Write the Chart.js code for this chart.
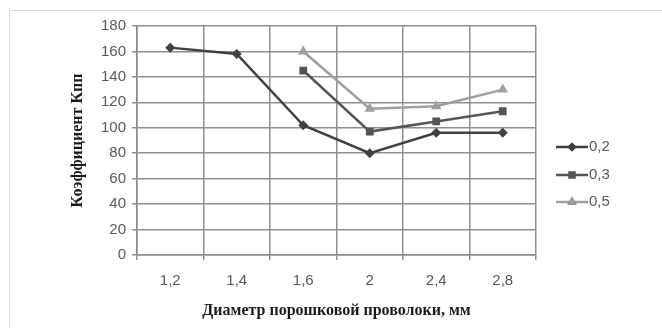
<!DOCTYPE html>
<html>
<head>
<meta charset="utf-8">
<script src="https://cdn.jsdelivr.net/npm/chart.js@4/dist/chart.umd.min.js"></script>
<style>
  html, body { margin: 0; padding: 0; background: #fff; }
  #wrap { position: relative; width: 662px; height: 328px; }
</style>
</head>
<body>
<div id="wrap"><canvas id="c" width="662" height="328"></canvas></div>
<script>
const categories = ['1,2', '1,4', '1,6', '2', '2,4', '2,8'];
const seriesLabels = ['0,2', '0,3', '0,5'];
const values02 = [163, 158, 102, 80, 96, 96];
const values03 = [null, null, 145, 97, 105, 113];
const values05 = [null, null, 160, 115, 117, 130];
const yTicks = [0, 20, 40, 60, 80, 100, 120, 140, 160, 180];
const yTitle = 'Коэффициент Кпп';
const xTitle = 'Диаметр порошковой проволоки, мм';

const colors = ['#404040', '#555555', '#9e9e9e'];
const markers = ['rectRot', 'rect', 'triangle'];
const radii = [5, 5.5, 6];
const seriesData = [values02, values03, values05];

const datasets = seriesLabels.map((lab, i) => ({
  label: lab,
  data: seriesData[i],
  borderColor: colors[i],
  backgroundColor: colors[i],
  borderWidth: 2.5,
  pointStyle: markers[i],
  pointRadius: radii[i],
  pointBorderWidth: 0,
  pointBackgroundColor: colors[i],
  tension: 0,
  spanGaps: false
}));

const framePlugin = {
  id: 'frame',
  beforeDraw(chart) {
    const ctx = chart.ctx;
    ctx.save();
    ctx.strokeStyle = '#d9d9d9';
    ctx.lineWidth = 1;
    ctx.beginPath();
    ctx.moveTo(9.5, 328);
    ctx.lineTo(9.5, 10.5);
    ctx.lineTo(662, 10.5);
    ctx.stroke();
    ctx.restore();
  }
};

const legendPlugin = {
  id: 'customLegend',
  afterDraw(chart) {
    const ctx = chart.ctx;
    const x0 = 556, lineLen = 32;
    const ys = [147, 175, 202];
    ctx.save();
    chart.data.datasets.forEach((ds, i) => {
      const y = ys[i];
      ctx.strokeStyle = ds.borderColor;
      ctx.lineWidth = 2.5;
      ctx.beginPath();
      ctx.moveTo(x0, y);
      ctx.lineTo(x0 + lineLen, y);
      ctx.stroke();
      Chart.helpers.drawPoint(ctx, {
        pointStyle: ds.pointStyle,
        radius: ds.pointRadius - 0.5,
        rotation: 0,
        borderWidth: 0
      }, x0 + lineLen / 2, y);
      ctx.fillStyle = ds.backgroundColor;
      ctx.fill();
      ctx.fillStyle = '#595959';
      ctx.font = '15px "Liberation Sans", Arial, sans-serif';
      ctx.textBaseline = 'middle';
      ctx.textAlign = 'left';
      ctx.fillText(ds.label, x0 + lineLen + 1, y);
    });
    ctx.restore();
  }
};

new Chart(document.getElementById('c'), {
  type: 'line',
  data: { labels: categories, datasets },
  options: {
    responsive: false,
    animation: false,
    devicePixelRatio: 1,
    layout: { padding: { left: 0, right: 126, top: 26, bottom: 0 } },
    plugins: { legend: { display: false }, tooltip: { enabled: false } },
    scales: {
      x: {
        type: 'category',
        offset: true,
        afterFit(s) { s.height = 73; },
        grid: { offset: true, color: '#8f8f8f', lineWidth: 1.5, tickLength: 5, drawTicks: true },
        border: { color: '#8a8a8a', width: 1.5 },
        ticks: { color: '#595959', font: { family: '"Liberation Sans", Arial, sans-serif', size: 15 }, padding: 12, maxRotation: 0 },
        title: {
          display: true, text: xTitle, color: '#1a1a1a',
          font: { family: '"Liberation Serif", "Times New Roman", serif', size: 16, weight: 'bold', lineHeight: 1.2 },
          padding: { top: 0, bottom: 8 }
        }
      },
      y: {
        min: 0, max: 180,
        afterFit(s) { s.width = 137; },
        afterBuildTicks(s) { s.ticks = yTicks.map(v => ({ value: v })); },
        grid: { color: '#8f8f8f', lineWidth: 1.5, tickLength: 5 },
        border: { color: '#8a8a8a', width: 1.5 },
        ticks: { color: '#595959', font: { family: '"Liberation Sans", Arial, sans-serif', size: 15 }, padding: 6 },
        title: {
          display: true, text: yTitle, color: '#1a1a1a',
          font: { family: '"Liberation Serif", "Times New Roman", serif', size: 16, weight: 'bold', lineHeight: 1.2 },
          padding: { top: 68, bottom: 0 }
        }
      }
    }
  },
  plugins: [framePlugin, legendPlugin]
});
</script>
</body>
</html>
